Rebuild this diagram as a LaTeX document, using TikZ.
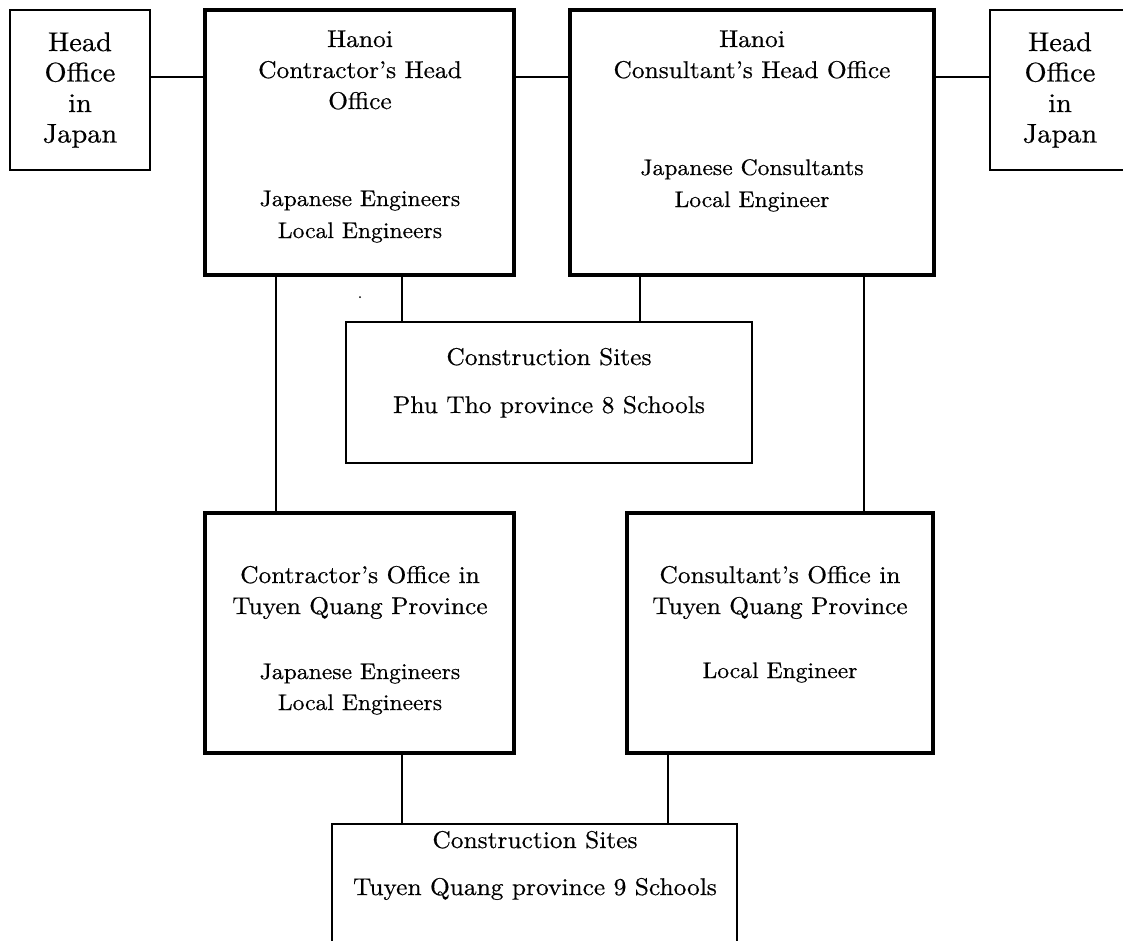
\documentclass[tikz,border=0pt]{standalone}
\usepackage{fontspec}
\setmainfont{lmroman10-regular.otf}[FakeStretch=1.05, FakeBold=0.5]
\newcommand{\hdrfont}{\fontsize{24.2}{31}\selectfont}
\newcommand{\smlfont}{\fontsize{22.5}{32}\selectfont}
\newcommand{\smltqfont}{\fontsize{22.5}{31}\selectfont}
\newcommand{\bigfont}{\fontsize{27}{30.5}\selectfont}
\begin{document}
\begin{tikzpicture}[x=1pt,y=-1pt,
  thickbox/.style={draw, line width=3.8pt, inner sep=0pt, outer sep=0pt},
  thinbox/.style={draw, line width=1.7pt, inner sep=0pt, outer sep=0pt},
  conn/.style={line width=1.7pt},
  hdr/.style={anchor=base, inner sep=0pt, align=center, font=\hdrfont},
  sml/.style={anchor=base, inner sep=0pt, align=center, font=\smlfont},
  smltq/.style={anchor=base, inner sep=0pt, align=center, font=\smltqfont},
  big/.style={anchor=base, inner sep=0pt, align=center, font=\bigfont}]
\useasboundingbox (0,0) rectangle (1123,940);
\clip (0,0) rectangle (1123,940);
% boxes
\node[thinbox, minimum width=140, minimum height=160] (jl) at (80,90) {};
\node[thickbox, minimum width=309, minimum height=265] (chq) at (359.5,142.5) {};
\node[thickbox, minimum width=364, minimum height=265] (khq) at (752,142.5) {};
\node[thinbox, minimum width=140, minimum height=160] (jr) at (1060,90) {};
\node[thinbox, minimum width=406, minimum height=141] (pt) at (549,392.5) {};
\node[thickbox, minimum width=309, minimum height=240] (ctq) at (359.5,633) {};
\node[thickbox, minimum width=306, minimum height=240] (ktq) at (780,633) {};
\node[thinbox, minimum width=405, minimum height=170] (bt) at (534.5,909) {};
% texts (anchor base = baseline of the last line)
\node[big] (tjl) at (80,142.5) {Head\\Office\\in\\Japan};
\node[big] (tjr) at (1060,142.5) {Head\\Office\\in\\Japan};
\node[hdr] (tchq) at (360,109) {Hanoi\\Contractor’s Head\\Office};
\node[sml] (schq) at (360,238) {Japanese Engineers\\Local Engineers};
\node[hdr] (tkhq) at (752,78) {Hanoi\\Consultant’s Head Office};
\node[sml] (skhq) at (752,207) {Japanese Consultants\\Local Engineer};
\node[hdr] (tpt1) at (549,365) {Construction Sites};
\node[hdr] (tpt2) at (549,413) {Phu Tho province 8 Schools};
\node[hdr] (tctq) at (360,614) {Contractor’s Office in\\Tuyen Quang Province};
\node[smltq] (sctq) at (360,710) {Japanese Engineers\\Local Engineers};
\node[hdr] (tktq) at (780,614) {Consultant’s Office in\\Tuyen Quang Province};
\node[smltq] (sktq) at (780,678) {Local Engineer};
\node[hdr] (tbt1) at (535,848) {Construction Sites};
\node[hdr] (tbt2) at (535,895) {Tuyen Quang province 9 Schools};
% small dot
\node[circle, fill, inner sep=0pt, minimum size=2pt] (dot) at (360,297) {};
% connectors
\draw[conn] (jl.east |- 0,77) -- (chq.west |- 0,77);
\draw[conn] (chq.east |- 0,77) -- (khq.west |- 0,77);
\draw[conn] (khq.east |- 0,77) -- (jr.west |- 0,77);
\draw[conn] (chq.south -| 276,0) -- (ctq.north -| 276,0);
\draw[conn] (chq.south -| 402,0) -- (pt.north -| 402,0);
\draw[conn] (khq.south -| 640,0) -- (pt.north -| 640,0);
\draw[conn] (khq.south -| 864,0) -- (ktq.north -| 864,0);
\draw[conn] (ctq.south -| 402,0) -- (bt.north -| 402,0);
\draw[conn] (ktq.south -| 668,0) -- (bt.north -| 668,0);
\end{tikzpicture}
\end{document}
